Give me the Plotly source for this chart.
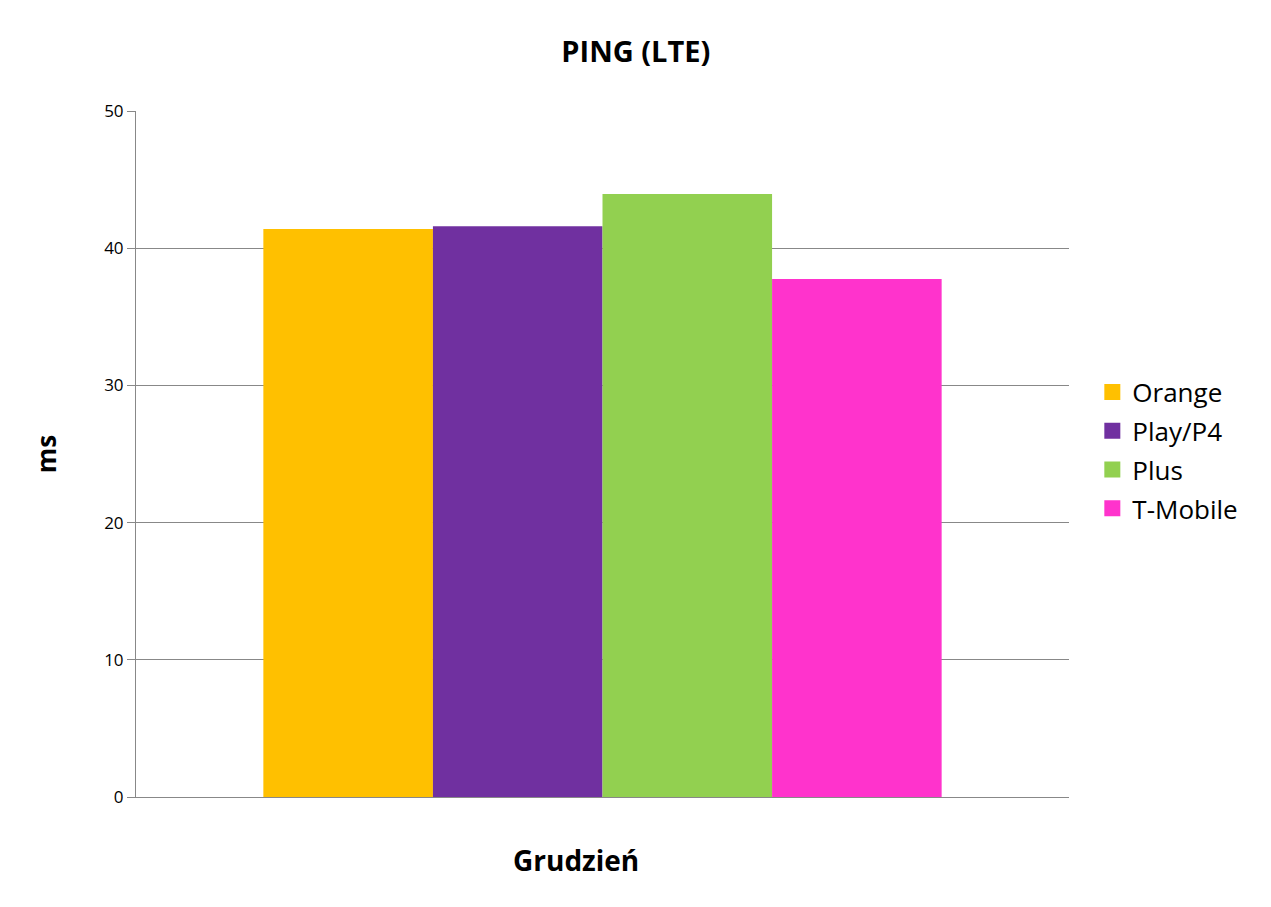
import plotly.graph_objects as go

categories = ["Grudzień"]
operators = ["Orange", "Play/P4", "Plus", "T-Mobile"]
values = [41.4, 41.6, 43.95, 37.75]
colors = ["#FFC000", "#7030A0", "#92D050", "#FF33CC"]

font_family = "Open Sans, Noto Sans, sans-serif"

fig = go.Figure()
for name, v, c in zip(operators, values, colors):
    fig.add_trace(go.Bar(x=categories, y=[v], name=name, showlegend=False,
                         marker=dict(color=c, line=dict(width=0))))
# legend entries with larger square swatches
for name, c in zip(operators, colors):
    fig.add_trace(go.Scatter(x=categories, y=[None], name=name, mode="markers", legendgroup=name,
                             marker=dict(symbol="square", size=20, color=c), hoverinfo="skip"))

fig.update_layout(
    width=1271, height=907,
    barmode="group", bargap=0.273, bargroupgap=0,
    plot_bgcolor="white", paper_bgcolor="white",
    margin=dict(l=128, r=210, t=103, b=118),
    title=dict(text="<b>PING (LTE)</b>", x=0.494, xanchor="center", y=0.9515, yanchor="middle",
               font=dict(family=font_family, size=29, color="black")),
    legend=dict(x=1.025, xanchor="left", y=0.505, yanchor="middle",
                font=dict(family=font_family, size=26, color="black"),
                tracegroupgap=2, itemwidth=30),
    font=dict(family=font_family, color="black"),
    annotations=[dict(text="<b>" + categories[0] + "</b>", xref="paper", yref="paper",
                      x=0.4716, y=-0.0918, xanchor="center", yanchor="middle", showarrow=False,
                      font=dict(family=font_family, size=28, color="black"))],
)
fig.update_xaxes(showticklabels=False, showline=True, linecolor="#888888", linewidth=1, ticks="")
fig.update_yaxes(range=[0, 50], dtick=10, showgrid=True, gridcolor="#888888", gridwidth=1,
                 showline=True, linecolor="#888888", linewidth=1, ticks="outside", ticklen=8,
                 tickcolor="#888888", tickfont=dict(family=font_family, size=17, color="black"),
                 zeroline=False,
                 title=dict(text="<b>ms</b>", standoff=40, font=dict(family=font_family, size=26, color="black")))

fig.write_html("out.html")
